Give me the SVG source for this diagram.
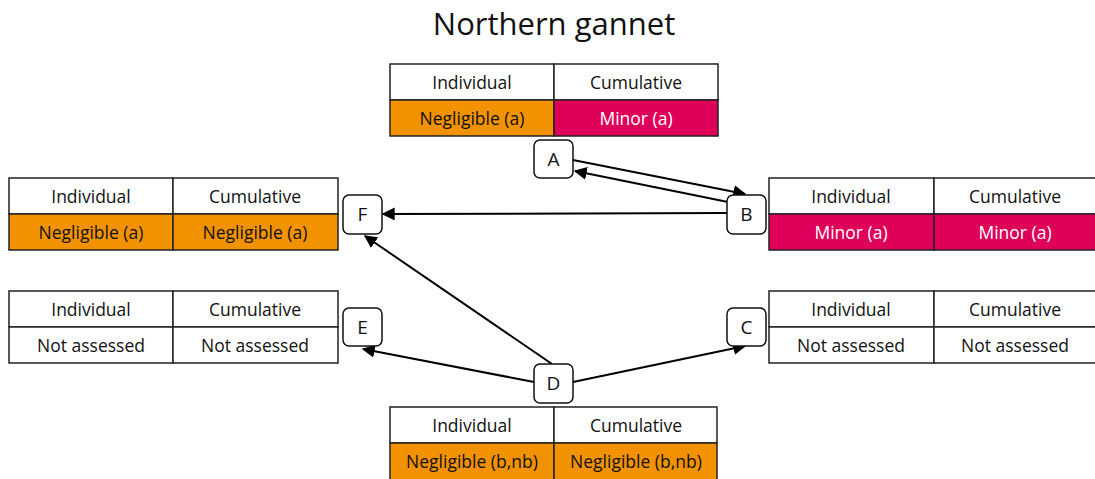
<svg xmlns="http://www.w3.org/2000/svg" width="1095" height="479" viewBox="0 0 1095 479">
<defs>
<style>
.cell{stroke:#222;stroke-width:1.5}
.w{fill:#ffffff}
.o{fill:#F39200}
.m{fill:#DE0059}
.t{font-family:"Open Sans","Noto Sans",sans-serif;font-size:17.5px;text-anchor:middle;fill:#111}
.tw{fill:#ffffff}
.box{fill:#fff;stroke:#111;stroke-width:1.5}
.lb{font-family:"Open Sans","Noto Sans",sans-serif;font-size:19px;text-anchor:middle;fill:#111}
.c{stroke:#000;stroke-width:2;fill:none;marker-end:url(#ah)}
</style>
<marker id="ah" viewBox="0 0 10 10" refX="9" refY="5" markerWidth="6.5" markerHeight="6.5" markerUnits="strokeWidth" orient="auto">
<path d="M0,0 L10,5 L0,10 z" fill="#000"/>
</marker>
</defs>
<rect width="1095" height="479" fill="#fff"/>
<text x="554" y="35" font-family="Open Sans, Noto Sans, sans-serif" font-size="31" text-anchor="middle" fill="#111">Northern gannet</text>

<g id="table-top">
<rect class="cell w" x="390" y="64" width="164" height="36"/>
<rect class="cell w" x="554" y="64" width="164" height="36"/>
<rect class="cell o" x="390" y="100" width="164" height="36"/>
<rect class="cell m" x="554" y="100" width="164" height="36"/>
<text class="t" x="472" y="88.5">Individual</text>
<text class="t" x="636" y="88.5">Cumulative</text>
<text class="t" x="472" y="124.5">Negligible (a)</text>
<text class="t tw" x="636" y="124.5">Minor (a)</text>
</g>

<g id="table-f">
<rect class="cell w" x="9" y="178" width="164" height="36"/>
<rect class="cell w" x="173" y="178" width="165" height="36"/>
<rect class="cell o" x="9" y="214" width="164" height="36"/>
<rect class="cell o" x="173" y="214" width="165" height="36"/>
<text class="t" x="91" y="202.5">Individual</text>
<text class="t" x="255" y="202.5">Cumulative</text>
<text class="t" x="91" y="238.5">Negligible (a)</text>
<text class="t" x="255" y="238.5">Negligible (a)</text>
</g>

<g id="table-b">
<rect class="cell w" x="769" y="178" width="165" height="36"/>
<rect class="cell w" x="934" y="178" width="164" height="36"/>
<rect class="cell m" x="769" y="214" width="165" height="36"/>
<rect class="cell m" x="934" y="214" width="164" height="36"/>
<text class="t" x="851" y="202.5">Individual</text>
<text class="t" x="1015" y="202.5">Cumulative</text>
<text class="t tw" x="851" y="238.5">Minor (a)</text>
<text class="t tw" x="1015" y="238.5">Minor (a)</text>
</g>

<g id="table-e">
<rect class="cell w" x="9" y="291" width="164" height="36"/>
<rect class="cell w" x="173" y="291" width="165" height="36"/>
<rect class="cell w" x="9" y="327" width="164" height="36"/>
<rect class="cell w" x="173" y="327" width="165" height="36"/>
<text class="t" x="91" y="315.5">Individual</text>
<text class="t" x="255" y="315.5">Cumulative</text>
<text class="t" x="91" y="351.5">Not assessed</text>
<text class="t" x="255" y="351.5">Not assessed</text>
</g>

<g id="table-c">
<rect class="cell w" x="769" y="291" width="165" height="36"/>
<rect class="cell w" x="934" y="291" width="164" height="36"/>
<rect class="cell w" x="769" y="327" width="165" height="36"/>
<rect class="cell w" x="934" y="327" width="164" height="36"/>
<text class="t" x="851" y="315.5">Individual</text>
<text class="t" x="1015" y="315.5">Cumulative</text>
<text class="t" x="851" y="351.5">Not assessed</text>
<text class="t" x="1015" y="351.5">Not assessed</text>
</g>

<g id="table-d">
<rect class="cell w" x="390" y="407" width="164" height="36"/>
<rect class="cell w" x="554" y="407" width="163" height="36"/>
<rect class="cell o" x="390" y="443" width="164" height="37"/>
<rect class="cell o" x="554" y="443" width="163" height="37"/>
<text class="t" x="472" y="431.5">Individual</text>
<text class="t" x="636" y="431.5">Cumulative</text>
<text class="t" x="472" y="467.5">Negligible (b,nb)</text>
<text class="t" x="636" y="467.5">Negligible (b,nb)</text>
</g>

<g id="connectors">
<line class="c" x1="573" y1="160" x2="745" y2="194"/>
<line class="c" x1="728" y1="202" x2="575" y2="171"/>
<line class="c" x1="727" y1="213" x2="383" y2="214"/>
<line class="c" x1="552" y1="364" x2="365" y2="236"/>
<line class="c" x1="534" y1="382" x2="363" y2="349"/>
<line class="c" x1="573" y1="382" x2="745" y2="346"/>
</g>

<g id="node-a"><rect class="box" x="534" y="140" width="39" height="38" rx="6"/><text class="lb" x="553.5" y="166">A</text></g>
<g id="node-b"><rect class="box" x="727" y="195" width="39" height="39" rx="6"/><text class="lb" x="746.5" y="221">B</text></g>
<g id="node-c"><rect class="box" x="727" y="308" width="39" height="38" rx="6"/><text class="lb" x="746.5" y="334">C</text></g>
<g id="node-d"><rect class="box" x="534" y="364" width="39" height="39" rx="6"/><text class="lb" x="553.5" y="390">D</text></g>
<g id="node-e"><rect class="box" x="343" y="308" width="39" height="38" rx="6"/><text class="lb" x="362.5" y="334">E</text></g>
<g id="node-f"><rect class="box" x="343" y="195" width="39" height="39" rx="6"/><text class="lb" x="362.5" y="221">F</text></g>
</svg>
